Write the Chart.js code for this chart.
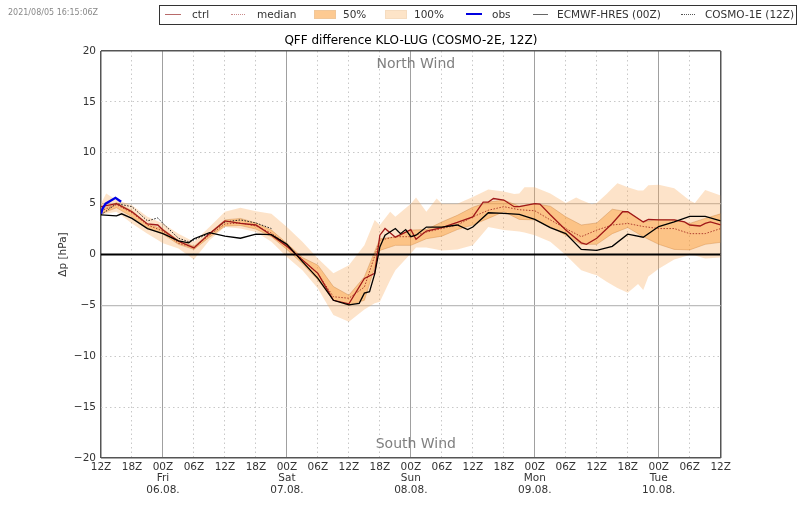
<!DOCTYPE html>
<html><head><meta charset="utf-8">
<style>
html,body{margin:0;padding:0;background:#fff;width:800px;height:509px;overflow:hidden;font-family:"DejaVu Sans",sans-serif}
#wrap{position:relative;width:800px;height:509px}
canvas{position:absolute;left:0;top:0}
.t{position:absolute;font-size:10.5px;color:#333;top:7.5px;line-height:13px;white-space:nowrap}
.s{position:absolute}
#box{position:absolute;left:159px;top:5px;width:635.5px;height:17.5px;border:1px solid #333}
#stamp{position:absolute;left:8px;top:8px;font-size:8px;color:#888;white-space:nowrap}
</style></head><body><div id="wrap">
<canvas id="c" width="800" height="509"></canvas>
<div id="stamp">2021/08/05 16:15:06Z</div>
<div id="box"></div>
<div class="s" style="left:165px;top:13.5px;width:16px;height:0;border-top:1.5px solid #b86a6a"></div><div class="t" style="left:192px">ctrl</div>
<div class="s" style="left:231px;top:13.5px;width:14px;height:0;border-top:1.5px dotted #c98a8a"></div><div class="t" style="left:257px">median</div>
<div class="s" style="left:314px;top:10px;width:20px;height:7px;background:#fdca92;border:1px solid #f0c79a"></div><div class="t" style="left:343px">50%</div>
<div class="s" style="left:385px;top:10px;width:20px;height:7px;background:#fde4c8;border:1px solid #f5dcc0"></div><div class="t" style="left:414px">100%</div>
<div class="s" style="left:466px;top:13px;width:16px;height:0;border-top:2px solid #0000e0"></div><div class="t" style="left:492px">obs</div>
<div class="s" style="left:533px;top:13.5px;width:15px;height:0;border-top:1.5px solid #666"></div><div class="t" style="left:557px">ECMWF-HRES (00Z)</div>
<div class="s" style="left:681px;top:13.5px;width:14px;height:0;border-top:1.5px dotted #555"></div><div class="t" style="left:705px">COSMO-1E (12Z)</div>
</div>
<script src="https://cdn.jsdelivr.net/npm/chart.js@4/dist/chart.umd.min.js"></script>
<script>
const grid3h=[0,3,6,9,12,15,18,21,24,27,30,33,36,39,42,45,48,51,54,57,60,63,66,69,72,75,78,81,84,87,90,93,96,99,102,105,108,111,114,117,120];
const p50upper=[4.4,5.1,4.3,3.0,2.5,1.4,0.8,2.1,3.4,3.55,3.1,2.4,1.1,-0.3,-1.05,-3.15,-4.0,-2.2,1.55,1.75,2.4,2.45,3.2,3.85,4.65,5.15,5.35,4.75,5.0,4.75,3.7,2.9,3.1,4.45,4.2,3.2,3.45,3.4,3.05,3.55,4.0];
const p50lower=[4.0,4.6,3.7,2.6,2.0,1.0,0.5,1.7,2.8,2.85,2.5,1.75,0.5,-0.9,-2.5,-4.5,-5.0,-4.5,0.4,0.9,0.9,1.55,1.8,2.45,2.9,3.55,4.2,3.45,3.4,2.7,1.9,1.0,1.0,2.05,2.65,1.75,1.0,0.5,0.45,1.0,1.2];
const median=[4.3,4.9,4.1,2.9,2.3,1.1,0.7,1.9,3.0,3.1,2.8,2.1,1.0,-0.5,-1.9,-4.15,-4.3,-3.2,1.4,1.75,1.75,2.2,2.55,2.9,3.7,4.35,4.7,4.4,4.3,3.4,2.55,1.75,2.4,2.9,3.05,2.75,2.55,2.55,2.05,2.05,2.55];
const hours100=[0,1,3,6,9,12,15,18,21,24,27,30,33,36,39,42,45,48,51,53,54,56,57,60,61,63,65,66,69,72,75,78,80,81,82,84,87,90,92,93,95,96,98,99,100,102,104,105,106,108,111,114,115,117,120];
const p100upper=[5.0,6.0,5.35,4.85,3.7,3.05,2.05,1.25,2.7,4.2,4.6,4.25,4.0,2.7,1.25,-0.4,-1.85,-1.05,0.9,3.4,2.9,4.2,3.7,5.0,5.6,4.2,5.5,5.0,5.0,5.65,6.4,6.2,5.95,6.0,6.6,6.6,6.0,5.05,5.6,5.35,4.95,5.05,6.0,6.5,7.0,6.6,6.3,6.3,6.8,6.85,6.5,5.3,5.05,6.35,5.8];
const p100lower=[3.9,4.0,4.2,3.05,2.05,1.1,0.6,-0.5,1.4,2.7,2.55,2.2,1.25,-0.25,-1.55,-3.35,-5.95,-6.6,-5.4,-4.8,-4.65,-2.5,-1.55,0.1,0.7,0.7,0.5,0.4,0.5,0.9,2.7,2.4,2.3,2.25,2.15,1.9,1.25,-0.05,-1.05,-1.55,-1.9,-2.05,-2.7,-3.0,-3.3,-3.75,-2.9,-3.5,-2.15,-1.4,-0.5,-0.05,-0.1,-0.4,-0.3];
const ctrlHours=[0,3,6,9,11,12,15,18,21,24,27,30,33,36,39,42,45,48,51,53,54,55,57,60,61,63,66,69,72,74,75,76,78,80,81,84,85,87,90,93,94,96,99,101,102,105,106,108,111,113,114,116,117,118,120];
const ctrl=[4.7,5.0,4.2,3.0,2.9,2.4,1.3,0.65,2.05,3.3,3.05,2.9,1.9,0.8,-0.55,-1.85,-4.5,-4.85,-2.35,-1.85,1.9,2.55,1.7,2.45,1.5,2.3,2.65,3.15,3.7,5.15,5.15,5.5,5.35,4.7,4.7,5.0,4.95,3.9,2.4,1.15,1.0,1.6,3.05,4.2,4.2,3.2,3.45,3.4,3.4,3.2,2.9,2.8,3.05,3.2,2.9];
const hresHours=[0,3,4,6,9,12,15,17,18,21,24,27,30,33,36,39,42,45,48,50,51,52,53,54,55,57,58,59,60,61,63,66,69,71,72,75,78,81,84,87,90,93,96,99,102,105,108,111,114,117,120];
const hres=[3.9,3.8,4.0,3.55,2.55,2.05,1.35,1.15,1.55,2.15,1.8,1.6,2.0,1.95,1.0,-0.7,-2.35,-4.5,-4.95,-4.8,-3.8,-3.65,-1.9,0.75,1.9,2.55,2.05,2.45,1.75,1.9,2.7,2.7,2.9,2.45,2.7,4.1,4.05,3.95,3.45,2.65,2.05,0.5,0.4,0.8,2.0,1.7,2.75,3.2,3.75,3.75,3.3];
const cosmoHours=[0,3,6,9,11,12,15,17,21,24,27,30,33];
const cosmo=[3.9,5.0,4.7,3.3,3.6,3.05,1.6,1.25,2.05,3.2,3.4,3.1,2.55];
const obsHours=[0,0.3,0.9,2.8,3.9];
const obs=[4.0,4.5,5.0,5.57,5.18];
const zeroHours=[0,120];
const zeroLine=[0,0];
const yTitle='\u0394p [hPa]';
const chartTitle='QFF difference KLO-LUG (COSMO-2E, 12Z)';
const xy=(h,v)=>h.map((x,i)=>({x,y:v[i]}));
const hourLabel=h=>{
  const m={0:'00Z',6:'06Z',12:'12Z',18:'18Z'}[(h+12)%24];
  if((h+12)%24===0){
    const d={12:['Fri','06.08.'],36:['Sat','07.08.'],60:['Sun','08.08.'],84:['Mon','09.08.'],108:['Tue','10.08.']}[h];
    return [m].concat(d);
  }
  return [m];
};
const windLabels={
  id:'windLabels',
  afterDatasetsDraw(ch){
    const {ctx,chartArea:a,scales:{y}}=ch;
    ctx.save();ctx.font='14px "DejaVu Sans"';ctx.fillStyle='#808080';ctx.textAlign='center';ctx.textBaseline='middle';
    const cx=a.left+(a.right-a.left)*0.5+5;
    ctx.fillText('North Wind',cx,y.getPixelForValue(18.7));
    ctx.fillText('South Wind',cx,y.getPixelForValue(-18.7));
    ctx.restore();
  }
};
const line=(data,color,w,dash,order)=>({data,borderColor:color,borderWidth:w,borderDash:dash||[],pointRadius:0,fill:false,tension:0,order});
const band=(data,fill,order,edge)=>({data,borderColor:edge||'rgba(0,0,0,0)',borderWidth:edge?0.6:0,pointRadius:0,fill,tension:0,order});
const d100u=band(xy(hours100,p100upper),{target:'+1',above:'rgba(250,170,90,0.33)',below:'rgba(250,170,90,0.33)'},20);
const d100l=band(xy(hours100,p100lower),false,20);
const d50u=band(xy(grid3h,p50upper),{target:'+1',above:'rgba(250,150,40,0.42)',below:'rgba(250,150,40,0.42)'},15,'rgba(190,120,60,0.6)');
const d50l=band(xy(grid3h,p50lower),false,15,'rgba(190,120,60,0.6)');
const isEdgeX=v=>v===0||v===120;
const isEdgeY=v=>Math.abs(v)===20;
new Chart(document.getElementById('c'),{
  type:'line',
  data:{datasets:[d100u,d100l,d50u,d50l,
    line(xy(zeroHours,zeroLine),'#000',2,null,10),
    line(xy(cosmoHours,cosmo),'#222',1,[1.5,1.5],5),
    line(xy(grid3h,median),'#b04030',1,[1.5,1.5],6),
    line(xy(ctrlHours,ctrl),'#a01818',1.3,null,4),
    line(xy(hresHours,hres),'#000',1.3,null,3),
    line(xy(obsHours,obs),'#0000e6',2.4,null,2)]},
  options:{
    responsive:false,animation:false,devicePixelRatio:1,
    layout:{padding:{left:57,right:79.3,top:0,bottom:0}},
    plugins:{legend:{display:false},tooltip:{enabled:false},
      title:{display:true,text:chartTitle,fullSize:false,color:'#000',font:{family:'"DejaVu Sans"',size:12,weight:'normal'},padding:{top:33.5,bottom:3.1}}},
    scales:{
      x:{type:'linear',min:0,max:120,
        afterFit(s){s.height=51;},
        afterBuildTicks(s){s.ticks=[];for(let h=0;h<=120;h+=6)s.ticks.push({value:h});},
        border:{display:false,dash(c){const v=c.tick&&c.tick.value;return (v===undefined||isEdgeX(v)||(v+12)%24===0)?[]:[1.5,3];}},
        grid:{drawTicks:false,lineWidth(c){return isEdgeX(c.tick.value)?1.5:1;},color(c){const v=c.tick&&c.tick.value;return isEdgeX(v)?'#555':((v+12)%24===0?'#a0a0a0':'#c8c8c8');}},
        ticks:{autoSkip:false,maxRotation:0,minRotation:0,padding:3,color:'#333',font:{family:'"DejaVu Sans"',size:10.5,lineHeight:1.12},callback:v=>hourLabel(v)}
      },
      y:{type:'linear',min:-20,max:20,
        afterFit(s){s.width=44;},
        title:{display:true,text:yTitle,color:'#333',font:{family:'"DejaVu Sans"',size:10.5},padding:0},
        border:{display:false,dash(c){const v=c.tick&&c.tick.value;return (v===undefined||isEdgeY(v)||Math.abs(v)===5||v===0)?[]:[1.5,3];}},
        grid:{drawTicks:false,lineWidth(c){const v=c.tick.value;return isEdgeY(v)?1.5:(Math.abs(v)===5?1.2:1);},color(c){const v=c.tick&&c.tick.value;return isEdgeY(v)?'#555':(Math.abs(v)===5?'#bdbdbd':'#c8c8c8');}},
        ticks:{stepSize:5,padding:5,color:'#333',font:{family:'"DejaVu Sans"',size:10.5},callback:v=>String(v).replace('-','\u2212')}
      }
    }
  },
  plugins:[windLabels]
});
</script></body></html>
